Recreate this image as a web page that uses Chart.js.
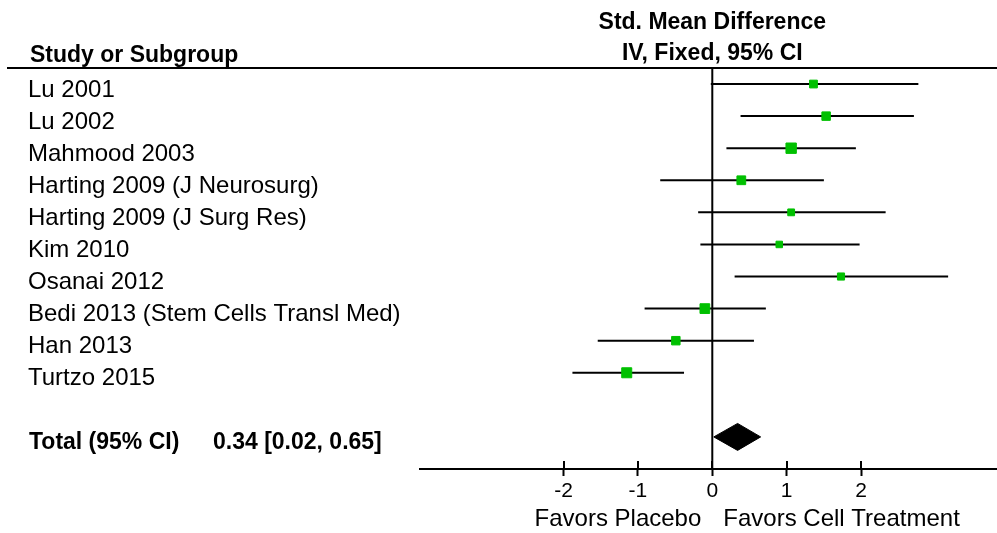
<!DOCTYPE html>
<html>
<head>
<meta charset="utf-8">
<script src="https://cdn.jsdelivr.net/npm/chart.js@4.4.1/dist/chart.umd.min.js"></script>
<style>
  html, body { margin: 0; padding: 0; background: #fff; }
  #wrap { width: 997px; height: 533px; position: relative; }
</style>
</head>
<body>
<div id="wrap"><canvas id="c" width="997" height="533"></canvas></div>
<script>
// ---- Data ----
const studies = [
  'Lu 2001',
  'Lu 2002',
  'Mahmood 2003',
  'Harting 2009 (J Neurosurg)',
  'Harting 2009 (J Surg Res)',
  'Kim 2010',
  'Osanai 2012',
  'Bedi 2013 (Stem Cells Transl Med)',
  'Han 2013',
  'Turtzo 2015'
];
const smd    = [1.36, 1.53, 1.06, 0.39, 1.06, 0.90, 1.73, -0.10, -0.49, -1.15];
const ciLow  = [-0.02, 0.38, 0.19, -0.70, -0.19, -0.16, 0.30, -0.91, -1.54, -1.88];
const ciHigh = [2.77, 2.71, 1.93, 1.50, 2.33, 1.98, 3.17, 0.72, 0.56, -0.38];
const weights = [8.4, 9.9, 14.9, 10.6, 6.4, 5.9, 7.0, 13.1, 9.9, 13.9]; // % weight
const total = { est: 0.34, low: 0.02, high: 0.65 };
const totalLabel = 'Total (95% CI)';
const totalText = '0.34 [0.02, 0.65]';
const tickValues = [-2, -1, 0, 1, 2];
const headerLeft = 'Study or Subgroup';
const headerRight = ['Std. Mean Difference', 'IV, Fixed, 95% CI'];
const favorsLeft = 'Favors Placebo';
const favorsRight = 'Favors Cell Treatment';

// ---- Build datasets ----
const TOTAL_ROW = 11;
const FONT = '"Liberation Sans", Arial, sans-serif';
const GREEN = '#00C000';

const datasets = [];
// CI lines
studies.forEach((s, i) => {
  datasets.push({
    type: 'scatter', showLine: true,
    data: [{x: ciLow[i], y: i}, {x: ciHigh[i], y: i}],
    borderColor: '#000', borderWidth: 2, pointRadius: 0, order: 2
  });
});
// Point estimates (box size by weight)
datasets.push({
  type: 'scatter',
  data: smd.map((v, i) => ({x: v, y: i})),
  pointStyle: 'rect',
  pointRadius: weights.map(w => 1.9 * Math.sqrt(w)),
  backgroundColor: GREEN, borderColor: GREEN, borderWidth: 1,
  order: 0
});
// Line of no effect
datasets.push({
  type: 'scatter', showLine: true,
  data: [{x: 0, y: -0.5}, {x: 0, y: 12}],
  borderColor: '#000', borderWidth: 2, pointRadius: 0, order: 3
});
// Summary diamond
const dh = 0.42;
datasets.push({
  type: 'scatter', showLine: true,
  data: [
    {x: total.low, y: TOTAL_ROW}, {x: total.est, y: TOTAL_ROW - dh},
    {x: total.high, y: TOTAL_ROW}, {x: total.est, y: TOTAL_ROW + dh},
    {x: total.low, y: TOTAL_ROW}
  ],
  borderColor: '#000', borderWidth: 1, backgroundColor: '#000',
  fill: 'shape', pointRadius: 0, order: 1
});

const textPlugin = {
  id: 'forestText',
  afterDraw(chart) {
    const ctx = chart.ctx;
    const xs = chart.scales.x, ys = chart.scales.y;
    ctx.save();
    // header rule
    ctx.strokeStyle = '#000';
    ctx.lineWidth = 2;
    ctx.beginPath();
    ctx.moveTo(7, ys.top);
    ctx.lineTo(997, ys.top);
    ctx.stroke();
    // upper part of tick marks
    tickValues.forEach(v => {
      const px = Math.round(xs.getPixelForValue(v));
      ctx.beginPath();
      ctx.moveTo(px, ys.bottom - 8);
      ctx.lineTo(px, ys.bottom);
      ctx.stroke();
    });
    ctx.fillStyle = '#000';
    ctx.textBaseline = 'alphabetic';
    // header texts
    ctx.font = 'bold 23px ' + FONT;
    ctx.textAlign = 'left';
    ctx.fillText(headerLeft, 30, 62);
    ctx.textAlign = 'center';
    const zx = xs.getPixelForValue(0);
    ctx.fillText(headerRight[0], zx, 29);
    ctx.fillText(headerRight[1], zx, 60);
    // study labels
    ctx.font = '24px ' + FONT;
    ctx.textAlign = 'left';
    studies.forEach((s, i) => {
      ctx.fillText(s, 28, ys.getPixelForValue(i) + 12.5);
    });
    // total
    ctx.font = 'bold 23px ' + FONT;
    const ty = ys.getPixelForValue(TOTAL_ROW) + 12.5;
    ctx.fillText(totalLabel, 29, ty);
    ctx.fillText(totalText, 213, ty);
    // favors
    ctx.font = '24px ' + FONT;
    ctx.textAlign = 'right';
    ctx.fillText(favorsLeft, zx - 11, 525.5);
    ctx.textAlign = 'left';
    ctx.fillText(favorsRight, zx + 11, 525.5);
    ctx.restore();
  }
};

new Chart(document.getElementById('c'), {
  data: { datasets },
  options: {
    responsive: false,
    animation: false,
    layout: { autoPadding: false, padding: { left: 420, right: 0, top: 68, bottom: 0 } },
    plugins: { legend: { display: false }, tooltip: { enabled: false } },
    scales: {
      x: {
        type: 'linear',
        min: -3.929, max: 3.827,
        position: 'bottom',
        afterBuildTicks(axis) { axis.ticks = tickValues.map(v => ({ value: v })); },
        afterFit(axis) { axis.height = 64; axis.paddingLeft = 0; axis.paddingRight = 0; },
        border: { display: true, color: '#000', width: 2 },
        grid: { drawOnChartArea: false, drawTicks: true, tickLength: 7, tickColor: '#000', tickWidth: 2 },
        ticks: { color: '#000', font: { family: FONT, size: 21 }, padding: 3, maxRotation: 0, autoSkip: false }
      },
      y: {
        type: 'linear', display: false, reverse: true, min: -0.5, max: 12
      }
    }
  },
  plugins: [textPlugin]
});
</script>
</body>
</html>
